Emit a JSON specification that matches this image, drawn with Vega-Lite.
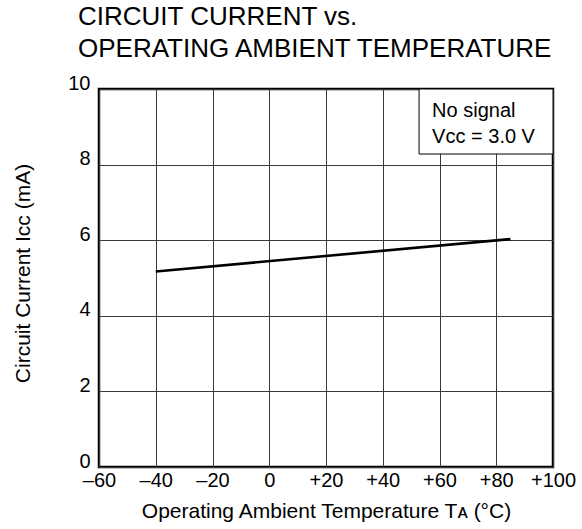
{
  "$schema": "https://vega.github.io/schema/vega-lite/v6.json",
  "width": 454,
  "height": 378,
  "autosize": {"type": "none"},
  "padding": {"left": 99, "top": 89, "right": 29, "bottom": 62},
  "background": "white",
  "title": {
    "text": ["CIRCUIT CURRENT vs.", "OPERATING AMBIENT TEMPERATURE"],
    "font": "Liberation Sans",
    "fontSize": 26,
    "fontWeight": "normal",
    "color": "black",
    "anchor": "start",
    "frame": "group",
    "baseline": "top",
    "lineHeight": 32,
    "dx": -21,
    "offset": 11
  },
  "config": {
    "view": {"stroke": "black", "strokeWidth": 2.5},
    "axis": {
      "labelFont": "Liberation Sans",
      "titleFont": "Liberation Sans",
      "labelColor": "black",
      "titleColor": "black",
      "labelFontSize": 20,
      "titleFontSize": 21,
      "titleFontWeight": "normal",
      "domain": false,
      "ticks": false,
      "tickSize": 0,
      "grid": true,
      "gridColor": "#3a3a3a",
      "gridWidth": 1,
      "gridOpacity": 1
    }
  },
  "datasets": {
    "curve": [
      {"temp": -40, "icc": 5.17},
      {"temp": 85, "icc": 6.03}
    ],
    "box": [
      {"x1": 52.8, "x2": 100, "y1": 8.28, "y2": 10}
    ],
    "notes": [
      {"tx": 57.4, "ty": 9.27, "label": "No signal"},
      {"tx": 57.4, "ty": 8.57, "label": "Vᴄᴄ = 3.0 V"}
    ]
  },
  "layer": [
    {
      "data": {"name": "curve"},
      "mark": {"type": "line", "color": "black", "strokeWidth": 2.6},
      "encoding": {
        "x": {
          "field": "temp",
          "type": "quantitative",
          "scale": {"domain": [-60, 100], "nice": false, "zero": false},
          "axis": {
            "values": [-60, -40, -20, 0, 20, 40, 60, 80, 100],
            "labelExpr": "datum.value > 0 ? '+' + datum.value : (datum.value < 0 ? '–' + abs(datum.value) : '0')",
            "labelPadding": 3,
            "labelFlush": false,
            "title": "Operating Ambient Temperature  Tᴀ (°C)",
            "titleBaseline": "alphabetic",
            "titleY": 50
          }
        },
        "y": {
          "field": "icc",
          "type": "quantitative",
          "scale": {"domain": [0, 10], "nice": false},
          "axis": {
            "values": [0, 2, 4, 6, 8, 10],
            "labelBaseline": "alphabetic",
            "labelPadding": 9,
            "labelFlush": false,
            "title": "Circuit Current  Iᴄᴄ (mA)",
            "titleAngle": -90,
            "titleBaseline": "alphabetic",
            "titleAlign": "center",
            "titleX": -70,
            "titleY": 184
          }
        }
      }
    },
    {
      "data": {"name": "box"},
      "mark": {"type": "rect", "fill": "white", "stroke": "black", "strokeWidth": 1},
      "encoding": {
        "x": {"field": "x1", "type": "quantitative"},
        "x2": {"field": "x2"},
        "y": {"field": "y1", "type": "quantitative"},
        "y2": {"field": "y2"}
      }
    },
    {
      "data": {"name": "notes"},
      "mark": {"type": "text", "align": "left", "baseline": "alphabetic", "font": "Liberation Sans", "fontSize": 20, "color": "black"},
      "encoding": {
        "x": {"field": "tx", "type": "quantitative"},
        "y": {"field": "ty", "type": "quantitative"},
        "text": {"field": "label"}
      }
    }
  ]
}
